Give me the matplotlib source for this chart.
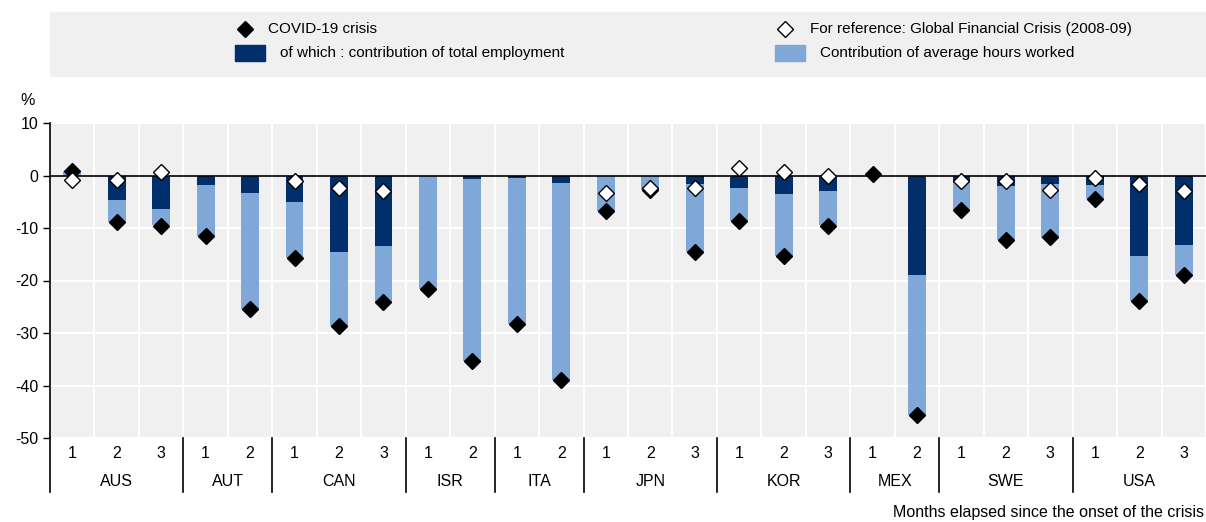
import numpy as np
import matplotlib
matplotlib.use("Agg")
from matplotlib import pyplot as plt
from matplotlib import font_manager

#data
countries = ["AUS", "AUT", "CAN", "ISR", "ITA", "JPN", "KOR", "MEX", "SWE", "USA"]
n_months = [3, 2, 3, 2, 2, 3, 3, 2, 3, 3]
covid = [0.8, -8.9, -9.6, -11.6, -25.5, -15.7, -28.6, -24.1, -21.6, -35.4, -28.2, -38.9,
         -6.7, -2.7, -14.5, -8.6, -15.4, -9.6, 0.3, -45.6, -6.5, -12.3, -11.8, -4.5, -23.9, -19.0]
employment = [0.0, -4.6, -6.4, -1.8, -3.4, -5.0, -14.5, -13.5, 0.0, -0.6, -0.5, -1.5,
              0.0, 0.0, -1.6, -2.4, -3.5, -3.0, 0.0, -19.0, -1.1, -2.0, -1.7, -1.9, -15.4, -13.2]
hours = [0.8, -4.3, -3.1, -9.8, -22.1, -10.7, -14.1, -10.6, -21.6, -34.8, -27.7, -37.4,
         -6.7, -2.8, -12.9, -6.2, -11.9, -6.5, 0.0, -26.6, -5.4, -10.3, -10.2, -2.6, -8.5, -5.8]
gfc = [-0.8, -0.8, 0.6, np.nan, np.nan, -1.1, -2.3, -2.9, np.nan, np.nan, np.nan, np.nan,
       -3.3, -2.4, -2.4, 1.5, 0.6, -0.1, np.nan, np.nan, -1.0, -1.0, -2.7, -0.5, -1.6, -3.0]

dark = "#002F6C"
light = "#7FA7D8"
bg = "#F0F0F0"

names = {f.name for f in font_manager.fontManager.ttflist}
fam = "Liberation Sans Narrow" if "Liberation Sans Narrow" in names else "Liberation Sans"
plt.rcParams["font.family"] = [fam, "DejaVu Sans"]
plt.rcParams["axes.unicode_minus"] = False
fs = 11.5
lfs = 11

fig = plt.figure(figsize=(12.06, 5.22), dpi=100)
ax = fig.add_axes([50 / 1206, 1 - 438 / 522, 1 - 50 / 1206, (438 - 123) / 522])
ax.set_facecolor(bg)

x = np.arange(len(covid))
emp = np.array(employment)
hrs = np.array(hours)
bottom = np.where(np.sign(emp) == np.sign(hrs), emp, 0)
ax.bar(x, emp, width=0.4, color=dark, zorder=2)
ax.bar(x, hrs, width=0.4, bottom=bottom, color=light, zorder=2)
ax.plot(x, covid, "D", color="black", markersize=8, zorder=4)
ax.plot(x, gfc, "D", markerfacecolor="white", markeredgecolor="black", markeredgewidth=1,
        markersize=8, zorder=5)
ax.axhline(0, color="black", lw=1.2, zorder=3)

ax.set_xlim(-0.5, len(covid) - 0.5)
ax.set_ylim(-50, 10)
ax.set_yticks(np.arange(-50, 11, 10))
ax.set_xticks(np.arange(-0.5, len(covid), 1), minor=False)
ax.set_xticklabels([])
ax.tick_params(axis="x", length=0)
ax.tick_params(axis="y", labelsize=fs, length=5, width=1)
ax.grid(True, color="white", lw=1.5, zorder=0)
ax.set_axisbelow(True)
for s in ["top", "right", "bottom"]:
    ax.spines[s].set_visible(False)
ax.spines["left"].set_linewidth(1.2)

#month and country labels below the axis
trans = ax.get_xaxis_transform()
pos = 0
ax.plot([-0.5, -0.5], [0, -0.173], color="black", lw=1.2, transform=trans, clip_on=False)
for c, n in zip(countries, n_months):
    for m in range(n):
        ax.text(pos + m, -0.048, str(m + 1), transform=trans, ha="center", va="center", fontsize=fs)
    ax.text(pos + (n - 1) / 2, -0.138, c, transform=trans, ha="center", va="center", fontsize=fs)
    pos += n
    if pos < len(covid):
        ax.plot([pos - 0.5, pos - 0.5], [0, -0.173], color="black", lw=1.2, transform=trans,
                clip_on=False)

fig.text(28 / 1206, 1 - 100 / 522, "%", ha="center", va="center", fontsize=fs)
fig.text(1204 / 1206, 1 - 512 / 522, "Months elapsed since the onset of the crisis",
         ha="right", va="center", fontsize=fs)

#legend panel
fig.patches.append(plt.Rectangle((50 / 1206, 1 - 76 / 522), 1 - 50 / 1206, 64 / 522,
                                 transform=fig.transFigure, color=bg, zorder=0))
fig.lines.append(plt.Line2D([245 / 1206], [1 - 29 / 522], marker="D", color="black",
                            markersize=8, transform=fig.transFigure))
fig.text(268 / 1206, 1 - 29 / 522, "COVID-19 crisis", va="center", fontsize=lfs)
fig.lines.append(plt.Line2D([785 / 1206], [1 - 29 / 522], marker="D", markerfacecolor="white",
                            markeredgecolor="black", markersize=8, transform=fig.transFigure))
fig.text(810 / 1206, 1 - 29 / 522, "For reference: Global Financial Crisis (2008-09)",
         va="center", fontsize=lfs)
fig.patches.append(plt.Rectangle((235 / 1206, 1 - 61 / 522), 30 / 1206, 16 / 522,
                                 transform=fig.transFigure, color=dark))
fig.text(280 / 1206, 1 - 53 / 522, "of which : contribution of total employment",
         va="center", fontsize=lfs)
fig.patches.append(plt.Rectangle((775 / 1206, 1 - 61 / 522), 30 / 1206, 16 / 522,
                                 transform=fig.transFigure, color=light))
fig.text(820 / 1206, 1 - 53 / 522, "Contribution of average hours worked",
         va="center", fontsize=lfs)

fig.savefig("out.png", dpi=100)
